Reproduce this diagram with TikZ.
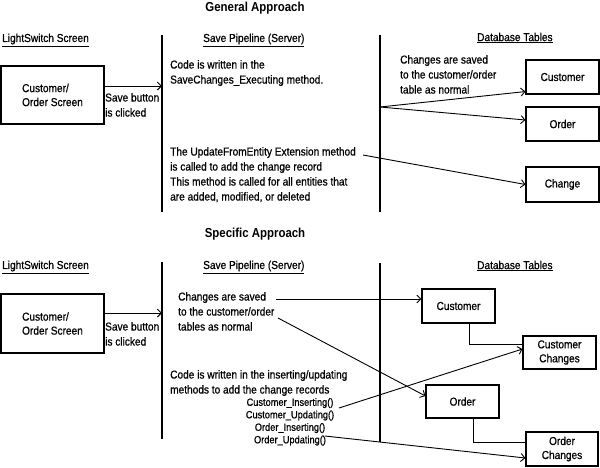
\documentclass[tikz,border=0pt]{standalone}
\usepackage{fontspec}
\setmainfont{Liberation Sans}[FakeStretch=0.88, UprightFeatures={FakeBold=0.7}]
\usetikzlibrary{arrows.meta,calc}
\tikzset{
  box/.style={draw, line width=1.1pt, align=center, inner sep=0pt, font=\fontsize{11.5}{14}\selectfont},
  txt/.style={anchor=north west, align=left, inner sep=0pt, font=\fontsize{11.5}{15}\selectfont},
  small/.style={anchor=north, align=center, inner sep=0pt, font=\fontsize{10.5}{12.5}\selectfont},
  hdr/.style={anchor=west, inner sep=0pt, font=\fontsize{11.5}{14}\selectfont},
  ttl/.style={inner sep=0pt, font=\fontsize{13}{15}\selectfont\bfseries},
  lane/.style={line width=1.1pt},
  conn/.style={line width=0.9pt},
  arr/.style={line width=0.9pt, -{Straight Barb[length=4pt,width=8pt]}}
}
\begin{document}
\begin{tikzpicture}[x=1pt,y=-1pt]
\useasboundingbox (0,0) rectangle (600,467);
% ---------------- General approach ----------------
\node[ttl] (t1) at (255,8) {General Approach};
\node[hdr] (h1) at (2,40) {\underline{LightSwitch Screen}};
\node[hdr] (h2) at (203,40) {\underline{Save Pipeline (Server)}};
\node[hdr] (h3) at (477,38) {\underline{Database Tables}};
\coordinate (v1t) at (162,35); \coordinate (v1b) at (162,212);
\coordinate (v2t) at (380,35); \coordinate (v2b) at (380,212);
\draw[lane] (v1t) -- (v1b);
\draw[lane] (v2t) -- (v2b);
\node[box, minimum width=103pt, minimum height=58pt, align=left] (s1) at (52.5,95) {Customer/\\Order Screen};
\coordinate (p1in) at (162,86);
\draw[arr] (s1.east |- p1in) -- (p1in);
\node[txt] (sb1) at (105,93) {Save button\\is clicked};
\node[txt] (c1) at (170,60) {Code is written in the\\SaveChanges\_Executing method.};
\node[txt] (cs1) at (400,55) {Changes are saved\\to the customer/order\\table as normal};
\node[box, minimum width=73pt, minimum height=34pt] (cu1) at (562.5,77) {Customer};
\node[box, minimum width=73pt, minimum height=34pt] (or1) at (562.5,124) {Order};
\node[box, minimum width=73pt, minimum height=35pt] (ch1) at (562.5,184.5) {Change};
\coordinate (f1) at (380,107);
\draw[arr] (f1) -- ([yshift=3pt]cu1.south west);
\draw[arr] (f1) -- ([yshift=4pt]or1.west);
\node[txt] (u1) at (170,147) {The UpdateFromEntity Extension method\\is called to add the change record\\This method is called for all entities that\\are added, modified, or deleted};
\coordinate (u1out) at (363,155);
\draw[arr] (u1out) -- (ch1.west);
% ---------------- Specific approach ----------------
\node[ttl] (t2) at (255,234) {Specific Approach};
\node[hdr] (h4) at (2,267) {\underline{LightSwitch Screen}};
\node[hdr] (h5) at (203,267) {\underline{Save Pipeline (Server)}};
\node[hdr] (h6) at (477,266) {\underline{Database Tables}};
\coordinate (v3t) at (162,262); \coordinate (v3b) at (162,439);
\coordinate (v4t) at (380,263); \coordinate (v4b) at (380,442);
\draw[lane] (v3t) -- (v3b);
\draw[lane] (v4t) -- (v4b);
\node[box, minimum width=103pt, minimum height=59pt, align=left] (s2) at (52.5,323.5) {Customer/\\Order Screen};
\coordinate (p2in) at (162,313);
\draw[arr] (s2.east |- p2in) -- (p2in);
\node[txt] (sb2) at (105,322) {Save button\\is clicked};
\node[txt] (cs2) at (178,292) {Changes are saved\\to the customer/order\\tables as normal};
\node[box, minimum width=73pt, minimum height=34pt] (cu2) at (458.5,306) {Customer};
\node[box, minimum width=73pt, minimum height=33pt] (cc2) at (559.5,352.5) {Customer\\Changes};
\node[box, minimum width=73pt, minimum height=33pt] (or2) at (462.5,401.5) {Order};
\node[box, minimum width=72pt, minimum height=34pt] (oc2) at (562,449) {Order\\Changes};
\coordinate (cs2a) at (276,299);
\coordinate (cs2b) at (278,318);
\draw[arr] (cs2a) -- ([yshift=7pt]cu2.west);
\draw[arr] (cs2b) -- ([yshift=5.5pt]or2.west);
\node[txt] (c2) at (170,370) {Code is written in the inserting/updating\\methods to add the change records};
\node[small] (m2) at (290,398) {Customer\_Inserting()\\Customer\_Updating()\\Order\_Inserting()\\Order\_Updating()};
\coordinate (m2a) at (339,408);
\coordinate (m2b) at (325,436);
\draw[arr] (m2a) -- ([yshift=3.5pt]cc2.west);
\draw[arr] (m2b) -- ([yshift=-9pt]oc2.west);
\coordinate (e1) at (469,344);
\coordinate (e2) at (473,442);
\draw[conn] (e1 |- cu2.south) -- (e1) -- (e1 -| cc2.west);
\draw[conn] (e2 |- or2.south) -- (e2) -- (e2 -| oc2.west);
\end{tikzpicture}
\end{document}
